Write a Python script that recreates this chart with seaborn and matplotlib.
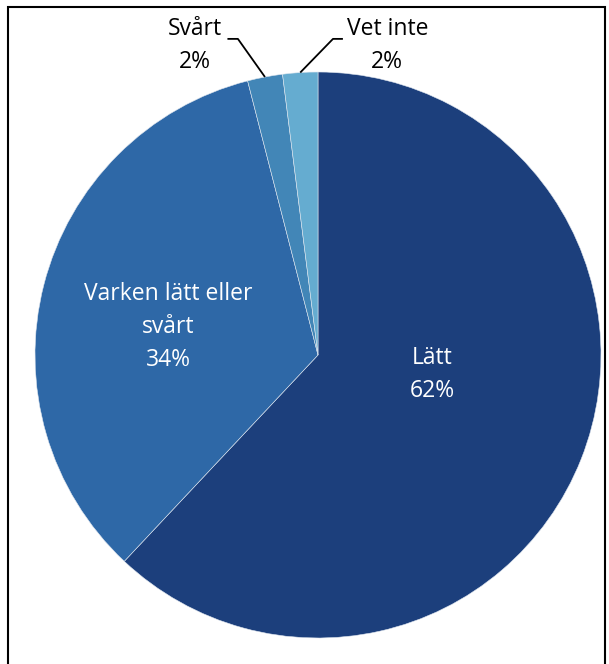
import numpy as np
import seaborn as sns
import matplotlib.pyplot as plt
from matplotlib.patches import Rectangle

sns.set_theme(style="white")
plt.rcParams['font.family'] = ['Open Sans', 'DejaVu Sans']

# data
labels = ["Lätt", "Varken lätt eller\nsvårt", "Svårt", "Vet inte"]
shares = [62, 34, 2, 2]
colors = ["#1c3f7c", "#2e68a7", "#4286b7", "#65acd0"]

W, H = 609, 664
cx, cy, r = 318, 355, 283

fig = plt.figure(figsize=(W / 100, H / 100), dpi=100)
fig.patch.set_facecolor("white")
ax = fig.add_axes([(cx - r) / W, (H - cy - r) / H, 2 * r / W, 2 * r / H])

wedges, _ = ax.pie(shares, colors=colors, startangle=90, counterclock=False,
                   radius=1, wedgeprops=dict(linewidth=0.4, edgecolor="#dfe6ef"))
ax.set_xlim(-1, 1)
ax.set_ylim(-1, 1)
ax.set_aspect("equal")
ax.axis("off")

fs = 16.5
ls = 1.5
# inside labels
ax.text(0.403, -0.068, f"{labels[0]}\n{shares[0]}%", color="white", fontsize=fs,
        ha="center", va="center", linespacing=ls)
ax.text(-0.53, 0.10, f"{labels[1]}\n{shares[1]}%", color="white", fontsize=fs,
        ha="center", va="center", linespacing=ls)

# outside labels with leader lines to mid of wedge
cum = np.cumsum([0] + shares)
mids = [(cum[i] + cum[i + 1]) / 2 for i in range(len(shares))]
outer = [
    (2, -0.435, 1.092, -0.32, -0.283),
    (3, 0.245, 1.092, 0.088, 0.053),
]
for idx, tx, ty, x0, xk in outer:
    ang = np.deg2rad(90 - mids[idx] / 100 * 360)
    ex, ey = np.cos(ang), np.sin(ang)
    ky = 1.117
    ax.plot([x0, xk, ex], [ky, ky, ey], color="black", lw=1.3, clip_on=False,
            solid_capstyle="butt")
    ax.text(tx, ty, f"{labels[idx]}\n{shares[idx]}%", color="black", fontsize=fs,
            ha="center", va="center", linespacing=ls, clip_on=False)

# frame
fig.patches.append(Rectangle((8 / W, -0.1), (605 - 8) / W, 1.1 - 7 / H,
                             transform=fig.transFigure, fill=False,
                             edgecolor="black", linewidth=1.5))

fig.savefig("out.png", dpi=100)
